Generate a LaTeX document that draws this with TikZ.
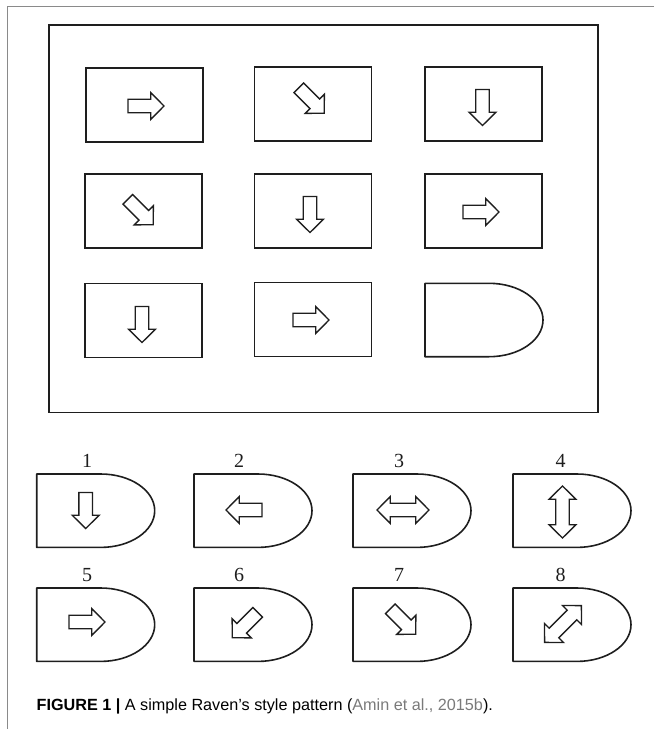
\documentclass[tikz,border=0pt]{standalone}
\usepackage{fontspec}
\setmainfont{Liberation Serif}
\newfontfamily\capfont{Liberation Sans}
\definecolor{ink}{HTML}{1E1E1E}
\definecolor{framegray}{HTML}{8A8A8A}
\definecolor{linkgray}{HTML}{7A7A7A}
\begin{document}
\begin{tikzpicture}[x=1pt,y=-1pt,
  framel/.style={draw=framegray,line width=1pt},
  mainbox/.style={draw=ink,line width=1.8pt,rectangle,inner sep=0pt,outer sep=0pt,minimum width=549pt,minimum height=387.5pt},
  cell/.style={draw=ink,line width=1.6pt,rectangle,inner sep=0pt,outer sep=0pt,minimum width=117pt,minimum height=74pt},
  dline/.style={draw=ink,line width=1.6pt,line join=round},
  arrowline/.style={draw=ink,line width=1.35pt,line join=miter,fill=white},
  numlabel/.style={font=\fontsize{20}{20}\selectfont,text=ink,inner sep=0pt},
  blockarrow/.pic={\draw[arrowline] (-18,-6.8) -- (4.7,-6.8) -- (4.7,-13.5) -- (18,0) -- (4.7,13.5) -- (4.7,6.8) -- (-18,6.8) -- cycle;},
  dblarrow/.pic={\draw[arrowline] (-26,0) -- (-12.7,-13.5) -- (-12.7,-6.8) -- (12.7,-6.8) -- (12.7,-13.5) -- (26,0) -- (12.7,13.5) -- (12.7,6.8) -- (-12.7,6.8) -- (-12.7,13.5) -- cycle;},
  dshape/.pic={\draw[dline] (0,0) -- (64,0) .. controls (93.8,0) and (118,16.4) .. (118,36.7) .. controls (118,57) and (93.8,73.4) .. (64,73.4) -- (0,73.4) -- cycle;}
]
\useasboundingbox (0,0) rectangle (654,729);
% journal frame
\draw[framel] (654,6.3) -- (7.3,6.3) -- (7.3,729);
% main matrix box
\node[mainbox] (main) at (323.8,218.75) {};
% cells
\node[cell] (c11) at (144.5,105) {};
\node[cell] (c12) at (313,104) {};
\node[cell] (c13) at (483.5,104) {};
\node[cell] (c21) at (143.5,211) {};
\node[cell] (c22) at (313,211) {};
\node[cell] (c23) at (483.5,211) {};
\node[cell] (c31) at (143.5,320.5) {};
\node[cell] (c32) at (313,319.5) {};
\pic at (425,283.3) {dshape};
% arrows in cells
\pic at (146,106) {blockarrow};
\pic[rotate=-45] at (311.5,100.5) {blockarrow};
\pic[rotate=-90] at (482.5,107.5) {blockarrow};
\pic[rotate=-45] at (140.5,212) {blockarrow};
\pic[rotate=-90] at (310,214.5) {blockarrow};
\pic at (481,212) {blockarrow};
\pic[rotate=-90] at (142,324.5) {blockarrow};
\pic at (311,320) {blockarrow};
% answer options row 1
\pic at (36.7,474) {dshape};
\pic at (194,474) {dshape};
\pic at (353,474) {dshape};
\pic at (513,474) {dshape};
\node[numlabel] (n1) at (87,461) {1};
\node[numlabel] (n2) at (239,461) {2};
\node[numlabel] (n3) at (399,461) {3};
\node[numlabel] (n4) at (560.5,461) {4};
\pic[rotate=-90] at (85.7,510.5) {blockarrow};
\pic[rotate=180] at (244,510) {blockarrow};
\pic at (403,510) {dblarrow};
\pic[rotate=90] at (562.5,512) {dblarrow};
% answer options row 2
\pic at (36.7,588) {dshape};
\pic at (194,588) {dshape};
\pic at (353,588) {dshape};
\pic at (513,588) {dshape};
\node[numlabel] (n5) at (87,575) {5};
\node[numlabel] (n6) at (239,575) {6};
\node[numlabel] (n7) at (399,575) {7};
\node[numlabel] (n8) at (560.5,575) {8};
\pic at (87,622) {blockarrow};
\pic[rotate=-135] at (245,625) {blockarrow};
\pic[rotate=-45] at (403,621.5) {blockarrow};
\pic[rotate=45] at (563,624) {dblarrow};
% caption
\node[anchor=base west,inner sep=0pt,font=\capfont\fontsize{16.2}{18}\selectfont] (cap) at (36.5,710.5) {\textbf{FIGURE 1 |} A simple Raven’s style pattern (\textcolor{linkgray}{Amin et al., 2015b}).};
\end{tikzpicture}
\end{document}
